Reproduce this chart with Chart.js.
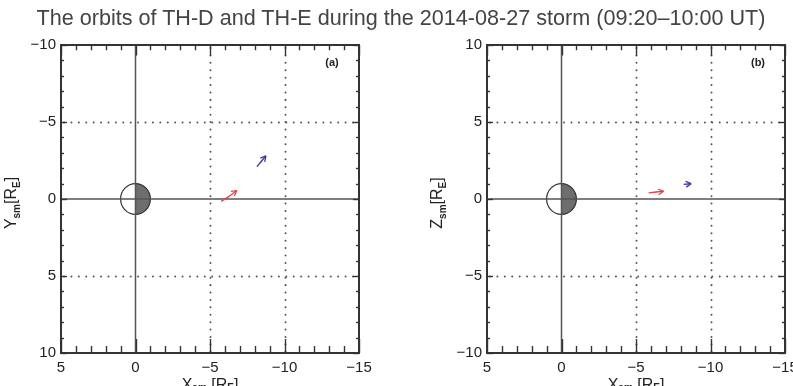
<!DOCTYPE html>
<html>
<head>
<title>THEMIS orbits, 2014-08-27 storm</title>
<script src="https://cdn.jsdelivr.net/npm/chart.js@4.4.0/dist/chart.umd.min.js"></script>
<style>
body { margin:0; background:#fff; overflow:hidden; width:793px; height:386px; position:relative; font-family:"Liberation Sans", Arial, sans-serif; }
#title { position:absolute; left:0; top:5px; width:802px; text-align:center; font-size:21.6px; color:#444; z-index:2; white-space:nowrap; }
#panelA { position:absolute; left:0; top:0; }
#panelB { position:absolute; left:397px; top:0; }
</style>
</head>
<body>
<div id="title">The orbits of TH-D and TH-E during the 2014-08-27 storm (09:20–10:00 UT)</div>
<canvas id="panelA" width="396" height="386"></canvas>
<canvas id="panelB" width="420" height="386"></canvas>
<script>
// axis limits, R_E
const xLimits = [-15, 5];
const yLimits = [-10, 10];
const tickStep = 5;

// panel (a): X-Y plane (SM)
const redXa = [-5.75, -6.25, -6.8];
const redYa = [0.15, -0.15, -0.55];
const blueXa = [-8.15, -8.45, -8.75];
const blueYa = [-2.1, -2.45, -2.8];

// panel (b): X-Z plane (SM)
const redXb = [-5.85, -6.35, -6.85];
const redZb = [0.4, 0.45, 0.5];
const blueXb = [-8.2, -8.45, -8.7];
const blueZb = [0.95, 0.97, 1.0];

const FONT = '"Liberation Sans", Arial, sans-serif';
const RED = '#e8414c';
const BLUE = '#3b3a9c';

function pts(xs, ys) { return xs.map((v, i) => ({x: v, y: ys[i]})); }
function fmtTick(v) { return v < 0 ? '\u2212' + Math.abs(v) : String(v); }

// text with subscripts, centred on (x, y)
function subText(ctx, parts, x, y) {
  let w = 0;
  parts.forEach(p => { ctx.font = p[1] ? 'bold 10px ' + FONT : '16px ' + FONT; w += ctx.measureText(p[0]).width; });
  let cx = x - w / 2;
  ctx.textAlign = 'left';
  parts.forEach(p => {
    ctx.font = p[1] ? 'bold 10px ' + FONT : '16px ' + FONT;
    ctx.fillText(p[0], cx, p[1] ? y + 5 : y);
    cx += ctx.measureText(p[0]).width;
  });
}

const orbitFrame = {
  id: 'orbitFrame',
  beforeDatasetsDraw(chart) {
    const {ctx, chartArea: a, scales: {x, y}} = chart;
    ctx.save();
    // dotted grid
    ctx.strokeStyle = '#555'; ctx.lineWidth = 2; ctx.lineCap = 'round'; ctx.setLineDash([0.01, 7.4]);
    for (let v = -10; v <= 0; v += tickStep) {
      if (v === 0 || v <= xLimits[0]) continue;
      const px = Math.round(x.getPixelForValue(v)) + 0.5;
      ctx.beginPath(); ctx.moveTo(px, a.top + 3); ctx.lineTo(px, a.bottom); ctx.stroke();
    }
    for (let v = yLimits[0] + tickStep; v < yLimits[1]; v += tickStep) {
      if (v === 0) continue;
      const py = Math.round(y.getPixelForValue(v)) + 0.5;
      ctx.beginPath(); ctx.moveTo(a.left + 3, py); ctx.lineTo(a.right, py); ctx.stroke();
    }
    ctx.setLineDash([]); ctx.lineCap = 'butt';
    // Earth: night side (x < 0) shaded
    const cx = x.getPixelForValue(0), cy = y.getPixelForValue(0);
    const rx = Math.abs(x.getPixelForValue(1) - cx), ry = Math.abs(y.getPixelForValue(1) - cy);
    ctx.fillStyle = '#fff';
    ctx.beginPath(); ctx.ellipse(cx, cy, rx, ry, 0, 0, 2 * Math.PI); ctx.fill();
    ctx.fillStyle = '#6e6e6e';
    ctx.beginPath(); ctx.ellipse(cx, cy, rx, ry, 0, -Math.PI / 2, Math.PI / 2); ctx.closePath(); ctx.fill();
    ctx.strokeStyle = '#333'; ctx.lineWidth = 1.2;
    ctx.beginPath(); ctx.ellipse(cx, cy, rx, ry, 0, 0, 2 * Math.PI); ctx.stroke();
    // zero lines
    ctx.strokeStyle = '#555'; ctx.lineWidth = 1.5;
    ctx.beginPath(); ctx.moveTo(cx, a.top); ctx.lineTo(cx, a.bottom); ctx.stroke();
    ctx.beginPath(); ctx.moveTo(a.left, cy); ctx.lineTo(a.right, cy); ctx.stroke();
    ctx.restore();
  },
  afterDatasetsDraw(chart, args, opts) {
    const {ctx, chartArea: a, scales: {x, y}} = chart;
    ctx.save();
    // arrow heads at the end of each track
    chart.data.datasets.forEach((ds, i) => {
      const el = chart.getDatasetMeta(i).data;
      const p1 = el[el.length - 2], p2 = el[el.length - 1];
      const ang = Math.atan2(p2.y - p1.y, p2.x - p1.x);
      ctx.strokeStyle = ds.borderColor; ctx.lineWidth = 1.3;
      [0.5, -0.5].forEach(d => {
        ctx.beginPath(); ctx.moveTo(p2.x, p2.y);
        ctx.lineTo(p2.x - 6 * Math.cos(ang + d), p2.y - 6 * Math.sin(ang + d)); ctx.stroke();
      });
    });
    // frame + inward ticks
    ctx.strokeStyle = '#333'; ctx.lineWidth = 2;
    ctx.strokeRect(a.left, a.top, a.right - a.left, a.bottom - a.top);
    ctx.lineWidth = 1.4;
    for (let v = xLimits[0]; v <= xLimits[1]; v++) {
      const px = Math.round(x.getPixelForValue(v)) + 0.5;
      const len = v % tickStep === 0 ? 14 : 7;
      ctx.beginPath(); ctx.moveTo(px, a.bottom); ctx.lineTo(px, a.bottom - len); ctx.stroke();
      ctx.beginPath(); ctx.moveTo(px, a.top); ctx.lineTo(px, a.top + len * 0.75); ctx.stroke();
    }
    for (let v = yLimits[0]; v <= yLimits[1]; v++) {
      const py = Math.round(y.getPixelForValue(v)) + 0.5;
      const len = v % tickStep === 0 ? 6 : 3;
      ctx.beginPath(); ctx.moveTo(a.left, py); ctx.lineTo(a.left + len, py); ctx.stroke();
      ctx.beginPath(); ctx.moveTo(a.right, py); ctx.lineTo(a.right - len, py); ctx.stroke();
    }
    // panel tag
    ctx.fillStyle = '#222'; ctx.font = 'bold 11px ' + FONT; ctx.textAlign = 'center'; ctx.textBaseline = 'middle';
    ctx.fillText(opts.tag, a.right - 27, a.top + 18);
    // axis titles
    ctx.fillStyle = '#222'; ctx.textBaseline = 'top';
    subText(ctx, [['X', false], ['sm', true], [' [R', false], ['E', true], [']', false]], (a.left + a.right) / 2, 378);
    ctx.save();
    ctx.translate(a.left - 49, (a.top + a.bottom) / 2 + 4);
    ctx.rotate(-Math.PI / 2);
    ctx.textBaseline = 'middle';
    subText(ctx, [[opts.yName, false], ['sm', true], ['[R', false], ['E', true], [']', false]], 0, 0);
    ctx.restore();
    ctx.restore();
  }
};

function makePanel(id, tag, yName, reverseY, yWidth, rightPad, rx, ry, bx, by) {
  return new Chart(document.getElementById(id), {
    type: 'scatter',
    data: {
      datasets: [
        { label: 'TH-D', data: pts(rx, ry), showLine: true, borderColor: RED, borderWidth: 1.4, pointRadius: 0 },
        { label: 'TH-E', data: pts(bx, by), showLine: true, borderColor: BLUE, borderWidth: 1.4, pointRadius: 0 }
      ]
    },
    options: {
      responsive: false,
      animation: false,
      layout: { padding: { top: 45, right: rightPad, left: 0, bottom: 0 } },
      plugins: { legend: { display: false }, tooltip: { enabled: false }, orbitFrame: { tag: tag, yName: yName } },
      scales: {
        x: {
          type: 'linear', min: xLimits[0], max: xLimits[1], reverse: true,
          grid: { display: false, drawTicks: false }, border: { display: false },
          ticks: { stepSize: tickStep, padding: 6, color: '#222', font: { size: 15, family: FONT }, callback: fmtTick, maxRotation: 0 },
          afterFit(s) { s.height = 33; }
        },
        y: {
          type: 'linear', min: yLimits[0], max: yLimits[1], reverse: reverseY,
          grid: { display: false, drawTicks: false }, border: { display: false },
          ticks: { stepSize: tickStep, padding: 5, color: '#222', font: { size: 15, family: FONT }, callback: fmtTick },
          afterFit(s) { s.width = yWidth; }
        }
      }
    },
    plugins: [orbitFrame]
  });
}

makePanel('panelA', '(a)', 'Y', true, 61, 37, redXa, redYa, blueXa, blueYa);
makePanel('panelB', '(b)', 'Z', false, 90, 32, redXb, redZb, blueXb, blueZb);
</script>
</body>
</html>
